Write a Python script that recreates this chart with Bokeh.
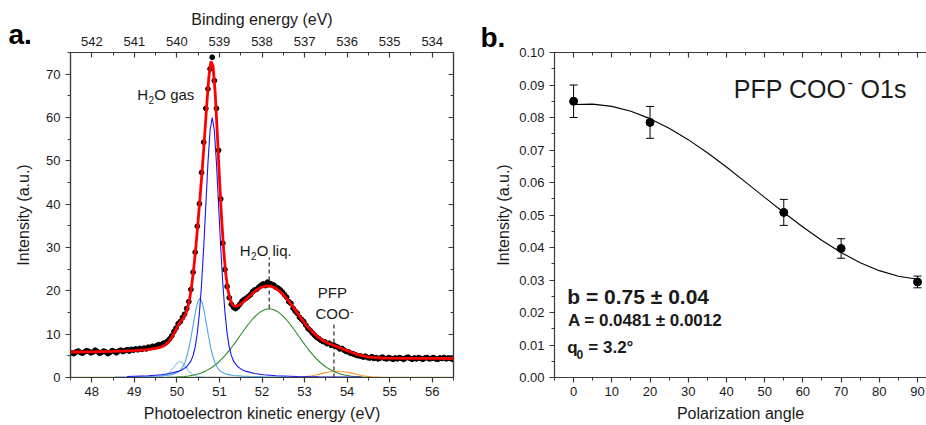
from bokeh.plotting import figure
from bokeh.models import (Range1d, LinearAxis, SingleIntervalTicker, Label, ColumnDataSource,
                          Whisker, TeeHead, PrintfTickFormatter, CustomJSTickFormatter)
from bokeh.layouts import row
from bokeh.embed import file_html
from bokeh.resources import INLINE

FONT = "Liberation Sans"
AX = "#3a3a3a"
TXT = "#1a1a1a"

# ---------------- panel a: O1s spectrum ----------------
# measured points (kinetic energy grid 47.53 ... 56.48, step 0.05 eV)
dot_ke_start = 47.53
dot_ke_step = 0.05
dot_int = [5.7, 5.5, 5.9, 6.1, 5.8, 5.6, 5.9, 6.2, 6.0, 5.7,
           5.9, 6.3, 6.0, 5.6, 5.8, 6.1, 5.9, 5.5, 5.8, 6.2,
           6.0, 5.7, 6.1, 6.3, 6.0, 6.2, 6.4, 6.1, 6.5, 6.3,
           6.6, 6.4, 6.7, 6.5, 6.8, 6.6, 7.0, 6.9, 7.2, 7.1,
           7.4, 7.6, 7.5, 7.9, 8.0, 8.4, 8.9, 9.6, 10.6, 11.4,
           12.4, 12.9, 13.8, 14.6, 15.9, 17.5, 20.3, 24.3, 28.9, 34.9,
           40.1, 47.3, 54.3, 62.1, 66.6, 71.2, 73.9, 68.5, 62.1, 52.4,
           41.2, 31.0, 24.9, 21.0, 18.4, 16.9, 16.2, 15.9, 16.3, 16.9,
           17.6, 18.0, 18.3, 18.7, 19.1, 19.8, 20.2, 20.4, 20.9, 21.3,
           21.6, 21.2, 22.0, 21.7, 21.5, 21.3, 20.8, 20.6, 20.2, 19.7,
           19.1, 18.5, 17.5, 17.1, 16.0, 15.3, 14.8, 13.9, 13.4, 12.9,
           12.1, 11.3, 10.9, 10.3, 9.8, 9.3, 9.0, 8.6, 8.3, 8.2,
           7.8, 7.9, 7.4, 7.5, 7.2, 7.0, 6.6, 6.7, 6.3, 6.0,
           5.9, 5.6, 5.5, 5.3, 5.1, 5.0, 4.9, 4.7, 4.9, 4.6,
           4.5, 4.8, 4.4, 4.6, 4.3, 4.5, 4.7, 4.4, 4.3, 4.6,
           4.4, 4.2, 4.5, 4.3, 4.6, 4.4, 4.2, 4.5, 4.7, 4.4,
           4.2, 4.5, 4.3, 4.6, 4.4, 4.2, 4.5, 4.6, 4.3, 4.4,
           4.6, 4.3, 4.2, 4.5, 4.4, 4.6, 4.3, 4.5, 4.4, 4.2]
dot_ke = [round(dot_ke_start + dot_ke_step * i, 2) for i in range(len(dot_int))]

# total fit (red)
fit_ke = [47.5, 48.0, 48.5, 49.0, 49.3, 49.5, 49.6, 49.7, 49.8, 49.9,
          50.0, 50.05, 50.1, 50.15, 50.2, 50.25, 50.3, 50.35, 50.4, 50.45,
          50.5, 50.55, 50.6, 50.65, 50.7, 50.75, 50.8, 50.85, 50.9, 50.95,
          51.0, 51.05, 51.1, 51.15, 51.2, 51.25, 51.3, 51.35, 51.4, 51.45, 51.5,
          51.6, 51.7, 51.8, 51.9, 52.0, 52.1, 52.2, 52.3, 52.4, 52.5,
          52.6, 52.7, 52.8, 52.9, 53.0, 53.1, 53.2, 53.3, 53.4, 53.5,
          53.6, 53.7, 53.8, 53.9, 54.0, 54.1, 54.2, 54.3, 54.4, 54.5,
          54.6, 54.8, 55.0, 55.5, 56.0, 56.5]
fit_int = [5.88, 5.93, 6.02, 6.21, 6.44, 6.71, 6.94, 7.33, 8.12, 9.57,
           11.50, 12.38, 13.05, 13.62, 14.47, 15.92, 18.17, 21.38, 25.56, 30.59,
           36.24, 42.25, 48.58, 55.44, 62.68, 69.22, 72.96, 71.87, 65.66, 56.26,
           46.07, 36.78, 29.26, 23.80, 20.16, 18.02, 16.91, 16.47, 16.43, 16.63, 16.91,
           17.79, 18.71, 19.61, 20.36, 20.87, 21.13, 21.08, 20.72, 20.05, 19.13,
           17.99, 16.69, 15.32, 13.94, 12.60, 11.40, 10.35, 9.46, 8.75, 8.20,
           7.74, 7.35, 6.97, 6.58, 6.19, 5.83, 5.47, 5.17, 4.93, 4.76,
           4.64, 4.50, 4.45, 4.42, 4.40, 4.39]

# component: H2O gas main (blue)
gas1_ke = [48.83, 49.33, 49.63, 49.83, 50.03, 50.13, 50.23, 50.33, 50.38, 50.43,
           50.48, 50.53, 50.58, 50.63, 50.68, 50.73, 50.78, 50.83, 50.88, 50.93,
           50.98, 51.03, 51.08, 51.13, 51.18, 51.23, 51.28, 51.33, 51.43, 51.53,
           51.63, 51.83, 52.03, 52.33, 52.83, 53.33, 53.83, 54.33]
gas1_int = [0.24, 0.42, 0.64, 0.92, 1.41, 1.81, 2.47, 3.79, 5.04, 7.05,
            10.21, 14.95, 21.56, 30.0, 39.73, 49.47, 57.06, 60.0, 57.06, 49.47,
            39.73, 30.0, 21.56, 14.95, 10.21, 7.05, 5.04, 3.79, 2.47, 1.81,
            1.41, 0.92, 0.64, 0.42, 0.24, 0.15, 0.11, 0.08]

# component: H2O gas second (light blue)
gas2_ke = [48.54, 49.04, 49.34, 49.54, 49.74, 49.84, 49.94, 50.04, 50.09, 50.14,
           50.19, 50.24, 50.29, 50.34, 50.39, 50.44, 50.49, 50.54, 50.59, 50.64,
           50.69, 50.74, 50.79, 50.84, 50.89, 50.94, 50.99, 51.04, 51.14, 51.24,
           51.34, 51.54, 51.74, 52.04, 52.54]
gas2_int = [0.08, 0.14, 0.22, 0.31, 0.47, 0.61, 0.84, 1.31, 1.76, 2.47,
            3.54, 5.07, 7.14, 9.70, 12.56, 15.35, 17.48, 18.3, 17.48, 15.35,
            12.56, 9.70, 7.14, 5.07, 3.54, 2.47, 1.76, 1.31, 0.84, 0.61,
            0.47, 0.31, 0.22, 0.14, 0.08]

# component: H2O gas third (pale blue)
gas3_ke = [49.07, 49.47, 49.57, 49.67, 49.72, 49.77, 49.82, 49.87, 49.92, 49.97,
           50.02, 50.07, 50.12, 50.17, 50.22, 50.27, 50.32, 50.37, 50.42, 50.47,
           50.57, 50.67, 51.07]
gas3_int = [0.05, 0.12, 0.17, 0.32, 0.47, 0.72, 1.09, 1.61, 2.25, 2.92,
            3.48, 3.70, 3.48, 2.92, 2.25, 1.61, 1.09, 0.72, 0.47, 0.32,
            0.17, 0.12, 0.05]

# component: H2O liquid (green)
liq_ke = [49.37, 49.57, 49.77, 49.97, 50.17, 50.27, 50.37, 50.47, 50.57, 50.67,
          50.77, 50.87, 50.97, 51.07, 51.17, 51.27, 51.37, 51.47, 51.57, 51.67,
          51.77, 51.87, 51.97, 52.07, 52.17, 52.27, 52.37, 52.47, 52.57, 52.67,
          52.77, 52.87, 52.97, 53.07, 53.17, 53.27, 53.37, 53.47, 53.57, 53.67,
          53.77, 53.87, 53.97, 54.07, 54.17, 54.37, 54.57, 54.77, 54.97]
liq_int = [0.0, 0.013, 0.036, 0.095, 0.23, 0.35, 0.52, 0.75, 1.06, 1.47,
           2.00, 2.66, 3.46, 4.41, 5.51, 6.74, 8.06, 9.45, 10.84, 12.17,
           13.39, 14.41, 15.19, 15.68, 15.85, 15.68, 15.19, 14.41, 13.39, 12.17,
           10.84, 9.45, 8.06, 6.74, 5.51, 4.41, 3.46, 2.66, 2.00, 1.47,
           1.06, 0.75, 0.52, 0.35, 0.23, 0.095, 0.036, 0.013, 0.0]

# component: PFP COO- (orange)
coo_ke = [52.77, 52.97, 53.07, 53.17, 53.27, 53.37, 53.47, 53.57, 53.67, 53.77,
          53.87, 53.97, 54.07, 54.17, 54.27, 54.37, 54.47, 54.57, 54.77]
coo_int = [0.05, 0.16, 0.27, 0.42, 0.62, 0.84, 1.07, 1.26, 1.40, 1.45,
           1.40, 1.26, 1.07, 0.84, 0.62, 0.42, 0.27, 0.16, 0.05]

# baseline component (olive)
base_ke = [47.5, 56.5]
base_int = [0.0, 0.0]

# peak markers (dashed)
mark_ke = [52.17, 53.69]
mark_lo = [15.9, 0.0]
mark_hi = [27.7, 12.8]

# ---------------- panel b: angular distribution ----------------
angle = [0, 20, 55, 70, 90]
intensity = [0.0850, 0.0785, 0.0508, 0.0397, 0.0294]
error = [0.0050, 0.0049, 0.0040, 0.0030, 0.0018]
curve_angle = [0, 5, 10, 15, 20, 25, 30, 35, 40, 45, 50, 55, 60, 65, 70, 75, 80, 85, 90]
curve_int = [0.08401, 0.08412, 0.08342, 0.08191, 0.07965, 0.07671, 0.07318, 0.06915,
             0.06476, 0.06013, 0.05542, 0.05076, 0.04629, 0.04215, 0.03846, 0.03534,
             0.03288, 0.03116, 0.03023]


def style_axis(ax, ticks_in=False, labels=True):
    ax.axis_line_color = AX
    ax.axis_line_width = 1.2
    ax.major_tick_line_color = AX
    ax.minor_tick_line_color = AX
    ax.major_tick_line_width = 1.2
    ax.minor_tick_line_width = 1.0
    if ticks_in:
        ax.major_tick_in, ax.major_tick_out = 5, 0
        ax.minor_tick_in, ax.minor_tick_out = 3, 0
    else:
        ax.major_tick_in, ax.major_tick_out = 0, 5
        ax.minor_tick_in, ax.minor_tick_out = 0, 3
    ax.major_label_text_font = FONT
    ax.major_label_text_font_size = "13px"
    ax.major_label_text_color = TXT
    ax.axis_label_text_font = FONT
    ax.axis_label_text_font_size = "16px"
    ax.axis_label_text_font_style = "normal"
    ax.axis_label_text_color = TXT
    if not labels:
        ax.formatter = CustomJSTickFormatter(code="return ''")


def add_text(p, x, y_base, text, size, ppu, bold=False):
    # label anchored at its vertical middle; y_base is the wanted baseline (data units),
    # ppu is the number of pixels per data unit on the y axis
    y_mid = y_base + 0.33 * size / ppu
    p.add_layout(Label(x=x, y=y_mid, text=text, text_font=FONT, text_font_size=f"{size}px",
                       text_font_style="bold" if bold else "normal", text_color=TXT,
                       text_baseline="middle", text_align="left"))


PPU_A = 325 / 75.0
PPU_B = 325 / 0.10

# ---------- figure a ----------
p1 = figure(width=482, height=425, output_backend="svg", toolbar_location=None,
            x_range=Range1d(47.5, 56.5), y_range=Range1d(0, 75),
            min_border_left=70, min_border_right=29, min_border_top=52, min_border_bottom=48)
p1.grid.visible = False
p1.outline_line_color = AX
p1.outline_line_width = 1.2
p1.background_fill_color = "white"
p1.border_fill_color = "white"
p1.extra_x_ranges = {"be": Range1d(542.5, 533.5)}

p1.xaxis[0].ticker = SingleIntervalTicker(interval=1, num_minor_ticks=2)
p1.yaxis[0].ticker = SingleIntervalTicker(interval=10, num_minor_ticks=2)
p1.xaxis[0].axis_label = "Photoelectron kinetic energy (eV)"
p1.yaxis[0].axis_label = "Intensity (a.u.)"
style_axis(p1.xaxis[0])
style_axis(p1.yaxis[0])
p1.xaxis[0].axis_label_standoff = 6
p1.xaxis[0].major_label_standoff = 4
p1.yaxis[0].axis_label_standoff = 11

top_a = LinearAxis(x_range_name="be", ticker=SingleIntervalTicker(interval=1, num_minor_ticks=2),
                   axis_label="Binding energy (eV)")
style_axis(top_a, ticks_in=True)
top_a.major_label_standoff = 7
top_a.axis_label_standoff = 6
p1.add_layout(top_a, "above")
right_a = LinearAxis(ticker=SingleIntervalTicker(interval=10, num_minor_ticks=2))
style_axis(right_a, ticks_in=True, labels=False)
right_a.major_label_standoff = 0
right_a.major_label_text_font_size = "1px"
p1.add_layout(right_a, "right")

p1.line(base_ke, base_int, line_color="#b09a4a", line_width=1.6)
p1.line(gas3_ke, gas3_int, line_color="#93c8ee", line_width=1.1)
p1.line(coo_ke, coo_int, line_color="#ff9a3c", line_width=1.1)
p1.line(liq_ke, liq_int, line_color="#2a8c2a", line_width=1.1)
p1.line(gas2_ke, gas2_int, line_color="#4ea6e6", line_width=1.1)
p1.line(gas1_ke, gas1_int, line_color="#1414ee", line_width=1.1)
p1.segment(x0=mark_ke, y0=mark_lo, x1=mark_ke, y1=mark_hi, line_color="#444444",
           line_width=1.4, line_dash="4 3")
p1.scatter(dot_ke, dot_int, size=4.8, color="black")
p1.line(fit_ke, fit_int, line_color="#ff0000", line_width=2.8)

# panel letter "a.": lives in the (roomy) right side panel, drawn at the top-left corner
letter_a = Label(x=-445, y=343, x_units="screen", y_units="screen", text="a.",
                 text_font=FONT, text_font_size="28px", text_font_style="bold",
                 text_color="black", text_baseline="middle", text_align="left")
p1.add_layout(letter_a, "right")

add_text(p1, 49.067, 64.15, "H", 15, PPU_A)
add_text(p1, 49.33, 63.3, "2", 10, PPU_A)
add_text(p1, 49.47, 64.15, "O gas", 15, PPU_A)
add_text(p1, 51.478, 28.15, "H", 15, PPU_A)
add_text(p1, 51.742, 27.3, "2", 10, PPU_A)
add_text(p1, 51.875, 28.15, "O liq.", 15, PPU_A)
add_text(p1, 53.311, 18.39, "PFP", 15, PPU_A)
add_text(p1, 53.257, 13.55, "COO", 15, PPU_A)
add_text(p1, 54.07, 14.6, "-", 11, PPU_A)

# ---------- figure b ----------
p2 = figure(width=444, height=425, output_backend="svg", toolbar_location=None,
            x_range=Range1d(-5, 92.35), y_range=Range1d(0, 0.10),
            min_border_left=72, min_border_right=0, min_border_top=52, min_border_bottom=48)
p2.grid.visible = False
p2.outline_line_color = None
p2.background_fill_color = "white"
p2.border_fill_color = "white"
p2.xaxis[0].ticker = SingleIntervalTicker(interval=10, num_minor_ticks=2)
p2.yaxis[0].ticker = SingleIntervalTicker(interval=0.01, num_minor_ticks=2)
p2.yaxis[0].formatter = PrintfTickFormatter(format="%.2f")
p2.xaxis[0].axis_label = "Polarization angle"
p2.yaxis[0].axis_label = "Intensity (a.u.)"
style_axis(p2.xaxis[0])
style_axis(p2.yaxis[0])
p2.xaxis[0].axis_label_standoff = 6
p2.xaxis[0].major_label_standoff = 4
p2.yaxis[0].axis_label_standoff = 4
top_b = LinearAxis(ticker=SingleIntervalTicker(interval=10, num_minor_ticks=2))
style_axis(top_b, ticks_in=True, labels=False)
top_b.major_label_standoff = 0
top_b.major_label_text_font_size = "1px"
p2.add_layout(top_b, "above")

# panel letter "b." as the figure title, shifted left of the frame
p2.title.text = "b."
p2.title.align = "left"
p2.title.offset = -74
p2.title.standoff = 0
p2.title.text_font = FONT
p2.title.text_font_size = "28px"
p2.title.text_font_style = "bold"
p2.title.text_color = "black"

p2.line(curve_angle, curve_int, line_color="black", line_width=1.1)
src_b = ColumnDataSource(dict(x=angle, y=intensity,
                              upper=[v + e for v, e in zip(intensity, error)],
                              lower=[v - e for v, e in zip(intensity, error)]))
p2.add_layout(Whisker(source=src_b, base="x", upper="upper", lower="lower",
                      line_color="black", line_width=1,
                      upper_head=TeeHead(size=8, line_color="black", line_width=1),
                      lower_head=TeeHead(size=8, line_color="black", line_width=1)))
p2.scatter("x", "y", source=src_b, size=8, color="black")

add_text(p2, 41.94, 0.08625, "PFP COO", 25, PPU_B)
add_text(p2, 71.7, 0.0893, "-", 16, PPU_B)
add_text(p2, 75.1, 0.08625, "O1s", 25, PPU_B)
add_text(p2, -1.65, 0.02268, "b = 0.75 \u00b1 0.04", 21, PPU_B, bold=True)
add_text(p2, -1.49, 0.01578, "A = 0.0481 \u00b1 0.0012", 17, PPU_B, bold=True)
add_text(p2, -1.65, 0.00748, "q", 17, PPU_B, bold=True)
add_text(p2, 0.78, 0.00575, "0", 12, PPU_B, bold=True)
add_text(p2, 3.85, 0.00748, "= 3.2\u00b0", 17, PPU_B, bold=True)

layout = row(p1, p2)
open("out.html", "w").write(file_html(layout, INLINE))
